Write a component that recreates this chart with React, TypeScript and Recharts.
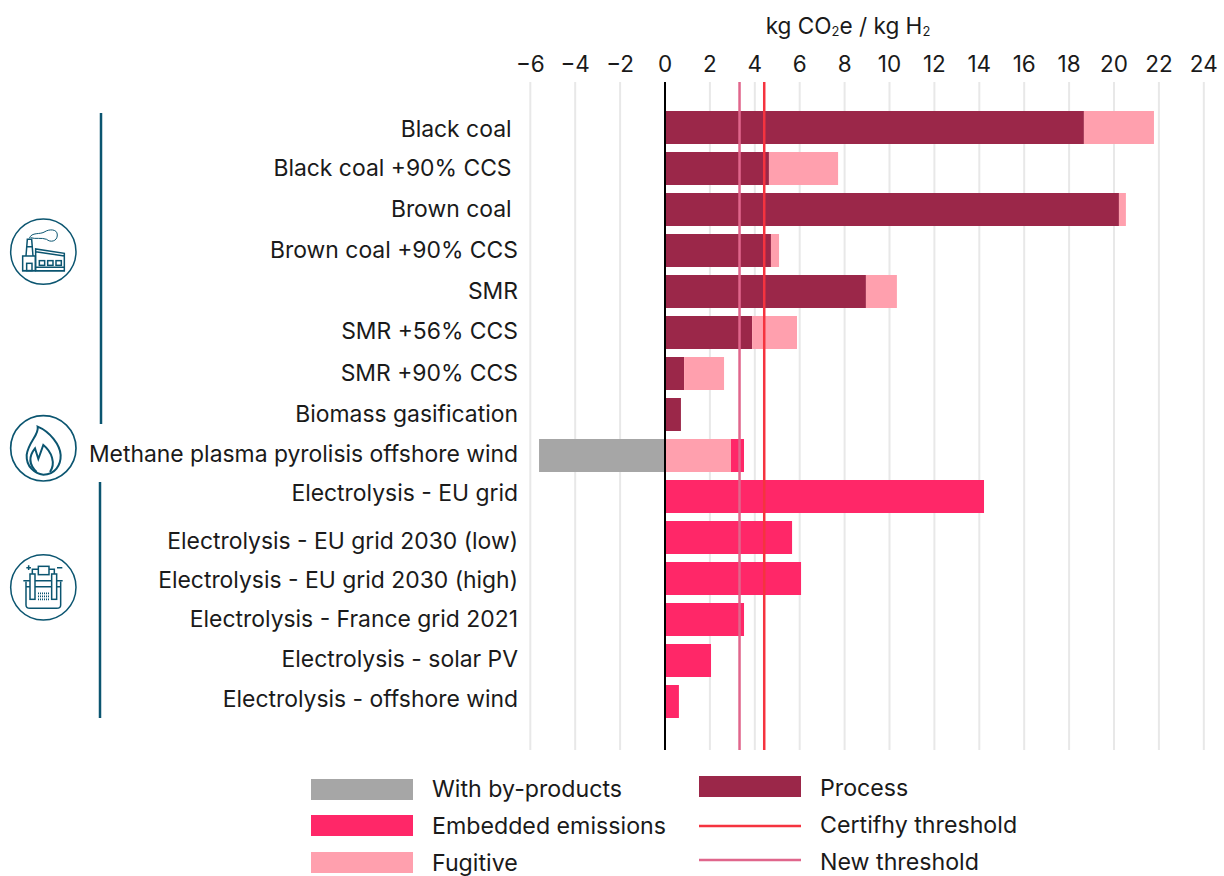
import { BarChart, Bar, XAxis, YAxis, CartesianGrid, ReferenceLine } from "recharts";

const categories = [
  "Black coal ",
  "Black coal +90% CCS ",
  "Brown coal ",
  "Brown coal +90% CCS",
  "SMR",
  "SMR +56% CCS",
  "SMR +90% CCS",
  "Biomass gasification",
  "Methane plasma pyrolisis offshore wind",
  "Electrolysis - EU grid",
  "Electrolysis - EU grid 2030 (low)",
  "Electrolysis - EU grid 2030 (high)",
  "Electrolysis - France grid 2021",
  "Electrolysis - solar PV",
  "Electrolysis - offshore wind",
];
const process = [18.66, 4.63, 20.22, 4.72, 8.95, 3.88, 0.85, 0.71, 0, 0, 0, 0, 0, 0, 0];
const fugitive = [3.12, 3.08, 0.31, 0.36, 1.38, 2.0, 1.78, 0, 2.94, 0, 0, 0, 0, 0, 0];
const embedded = [0, 0, 0, 0, 0, 0, 0, 0, 0.58, 14.21, 5.66, 6.06, 3.52, 2.05, 0.62];
const byProducts = [0, 0, 0, 0, 0, 0, 0, 0, -5.61, 0, 0, 0, 0, 0, 0];
const xTicks = [-6, -4, -2, 0, 2, 4, 6, 8, 10, 12, 14, 16, 18, 20, 22, 24];
const certifhyThreshold = 4.42;
const newThreshold = 3.32;

const data = categories.map((name, i) => ({
  name,
  process: process[i],
  fugitive: fugitive[i],
  embedded: embedded[i],
  byProducts: byProducts[i],
}));

const FONT = "Inter, sans-serif";
const TEXT = "#1a1a1a";
const TEAL = "#0b5570";
const GREY = "#a6a6a6";
const PROCESS = "#9b2749";
const EMBEDDED = "#ff2768";
const FUGITIVE = "#ffa0ae";
const RED = "#f5333f";
const PINK = "#e0668c";

// the labels in the original sit a little off their bars
const labelNudge = [1, -1, -1, -1, -1, -2, -1, -1, -2, -4, 3, 1, -1, -2, -3];

function CategoryTick({ y, payload, index }: any) {
  return (
    <text
      x={518}
      y={y + labelNudge[index]}
      textAnchor="end"
      dominantBaseline="central"
      fontFamily={FONT}
      fontSize={22.9}
      fill={TEXT}
      style={{ whiteSpace: "pre" }}
    >
      {payload.value}
    </text>
  );
}

function ValueTick({ x, payload }: any) {
  const label = payload.value < 0 ? `\u2212${Math.abs(payload.value)}` : `${payload.value}`;
  return (
    <text x={x} y={63} textAnchor="middle" dominantBaseline="central" fontFamily={FONT} fontSize={22.5} fill={TEXT}>
      {label}
    </text>
  );
}

function FactoryIcon() {
  return (
    <g transform="translate(0,200) scale(0.3333)" fill="none" stroke={TEAL} strokeWidth={4.5}>
      <circle cx={130} cy={155} r={98} />
      <path d="M78 168 L82 118 H95 L99 168 M80 140 H97" />
      <rect x={68} y={168} width={38} height={44} />
      <rect x={80} y={190} width={16} height={22} />
      <path d="M107 212 V147 L193 160 V212 Z M107 155 L193 168" />
      <path d="M107 202 H193 M66 212 H195" />
      <rect x={118} y={182} width={16} height={14} />
      <rect x={143} y={182} width={16} height={14} />
      <rect x={168} y={182} width={16} height={14} />
      <path d="M88 115 C95 95 120 105 135 95 C145 88 172 85 172 105 C172 125 150 128 140 118 C125 112 105 118 92 113" strokeWidth={3} />
    </g>
  );
}

function FlameIcon() {
  return (
    <g transform="translate(0,200) scale(0.3333)" fill="none" stroke={TEAL} strokeWidth={6}>
      <circle cx={130} cy={745} r={98} strokeWidth={5} />
      <path d="M113 680 C118 705 85 725 80 765 C78 800 105 822 130 824 C165 824 183 795 182 765 C180 735 150 695 113 680 Z" />
      <path d="M110 816 C88 795 85 770 105 745 L115 777 L130 735 C155 755 168 790 150 816" />
    </g>
  );
}

function ElectrolysisIcon() {
  return (
    <g transform="translate(0,480) scale(0.3333)" fill="none" stroke={TEAL} strokeWidth={4.5}>
      <circle cx={130} cy={322} r={98} />
      <path d="M78 305 V375 Q78 385 90 385 H170 Q182 385 182 375 V305 M70 302 H188 M78 320 H182" />
      <rect x={90} y={282} width={15} height={76} fill="#fff" />
      <rect x={155} y={282} width={15} height={76} fill="#fff" />
      <path d="M97 282 V268 H163 V282" />
      <rect x={115} y={259} width={32} height={25} fill="#fff" />
      <path d="M79 263 H93 M86 256 V270 M171 263 H187" />
      <path d="M114 340 H148 M114 349 H148 M114 358 H148" strokeDasharray="3 3" strokeWidth={5} />
    </g>
  );
}

function Overlay() {
  const text = { fontFamily: FONT, fontSize: 23.2, fill: TEXT, dominantBaseline: "central" } as const;
  return (
    <svg width={1224} height={876} style={{ position: "absolute", left: 0, top: 0, pointerEvents: "none" }}>
      <text x={848} y={25} textAnchor="middle" fontFamily={FONT} fontSize={22.6} fill={TEXT} dominantBaseline="central">
        kg CO<tspan fontSize={13} dy={6}>2</tspan>
        <tspan dy={-6}>e / kg H</tspan>
        <tspan fontSize={13} dy={6}>2</tspan>
      </text>

      <line x1={101} x2={101} y1={113} y2={424} stroke={TEAL} strokeWidth={2.5} />
      <line x1={100} x2={100} y1={482} y2={718} stroke={TEAL} strokeWidth={2.5} />
      <FactoryIcon />
      <FlameIcon />
      <ElectrolysisIcon />

      <rect x={311} y={779} width={102} height={21} fill={GREY} />
      <text x={432} y={789} {...text}>With by-products</text>
      <rect x={311} y={815} width={102} height={21} fill={EMBEDDED} />
      <text x={432} y={826} {...text}>Embedded emissions</text>
      <rect x={311} y={852} width={102} height={21} fill={FUGITIVE} />
      <text x={432} y={863} {...text}>Fugitive</text>

      <rect x={699} y={776} width={102} height={21} fill={PROCESS} />
      <text x={820} y={788} {...text}>Process</text>
      <line x1={699} x2={801} y1={826} y2={826} stroke={RED} strokeWidth={2.5} />
      <text x={820} y={825} {...text}>Certifhy threshold</text>
      <line x1={699} x2={801} y1={860} y2={860} stroke={PINK} strokeWidth={2.5} />
      <text x={820} y={862} {...text}>New threshold</text>
    </svg>
  );
}

export default function App() {
  return (
    <div style={{ position: "absolute", left: 0, top: 0, width: 1224, height: 876, background: "#fff" }}>
      <BarChart
        layout="vertical"
        width={1224}
        height={876}
        data={data}
        margin={{ top: 0, right: 20.2, bottom: 126, left: 0.3 }}
        stackOffset="sign"
        barSize={33}
      >
        <CartesianGrid horizontal={false} stroke="#e8e8e8" strokeWidth={2} />
        <XAxis
          type="number"
          orientation="top"
          domain={[-6, 24]}
          ticks={xTicks}
          height={82}
          axisLine={false}
          tickLine={false}
          interval={0}
          tick={<ValueTick />}
        />
        <YAxis
          type="category"
          dataKey="name"
          width={530}
          axisLine={false}
          tickLine={false}
          interval={0}
          padding={{ top: 25, bottom: 28 }}
          tick={<CategoryTick />}
        />
        <Bar dataKey="byProducts" stackId="a" fill={GREY} isAnimationActive={false} />
        <Bar dataKey="process" stackId="a" fill={PROCESS} isAnimationActive={false} />
        <Bar dataKey="fugitive" stackId="a" fill={FUGITIVE} isAnimationActive={false} />
        <Bar dataKey="embedded" stackId="a" fill={EMBEDDED} isAnimationActive={false} />
        <ReferenceLine x={0} stroke="#000" strokeWidth={2} />
        <ReferenceLine x={newThreshold} stroke={PINK} strokeWidth={2.5} />
        <ReferenceLine x={certifhyThreshold} stroke={RED} strokeWidth={2.5} />
      </BarChart>
      <Overlay />
    </div>
  );
}
